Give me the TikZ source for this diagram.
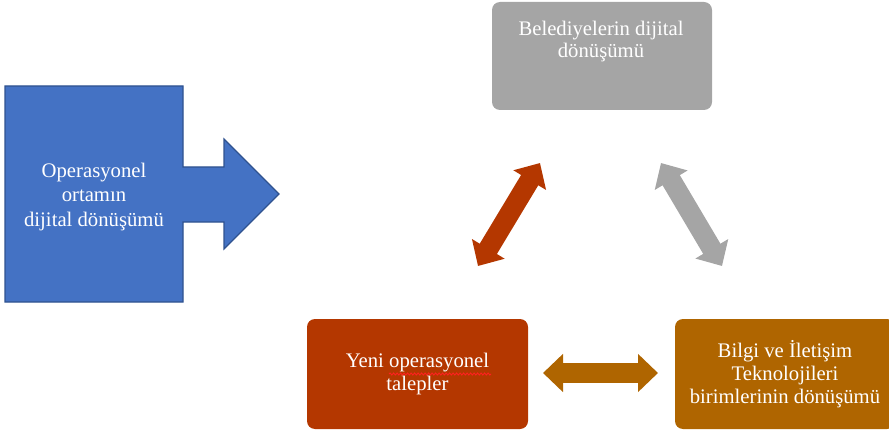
\documentclass[tikz,border=0pt]{standalone}
\usepackage{fontspec}
\setmainfont{Liberation Serif}
\usetikzlibrary{arrows.meta,decorations.pathmorphing}
\definecolor{cblue}{HTML}{4472C4}
\definecolor{cblueb}{HTML}{2F528F}
\definecolor{cgray}{HTML}{A5A5A5}
\definecolor{cred}{HTML}{B43700}
\definecolor{corange}{HTML}{AF6500}
\definecolor{cspell}{HTML}{FF2020}
\begin{document}
\begin{tikzpicture}[x=1pt,y=-1pt,
  box/.style={rounded corners=8pt, draw=none, inner sep=0pt, text=white, align=center,
              font=\fontsize{20.7}{22.8}\selectfont},
  lbl/.style={text=white, align=center, inner sep=0pt, font=\fontsize{20.7}{22.8}\selectfont},
  dbl/.style={line width=20pt, {Triangle[width=37pt,length=20pt]}-{Triangle[width=37pt,length=20pt]}}]
\useasboundingbox (0,0) rectangle (889,433);
\clip (0,0) rectangle (889,433);
% blue block arrow
\draw[fill=cblue, draw=cblueb, line width=1.2pt]
  (5,86) -- (183,86) -- (183,167) -- (224,167) -- (224,139) -- (279,194)
  -- (224,249) -- (224,222) -- (183,222) -- (183,302) -- (5,302) -- cycle;
\node[lbl, font=\fontsize{20.7}{24.5}\selectfont] (op) at (94,197) {Operasyonel\\ortamın\\dijital dönüşümü};
% boxes
\node[box, fill=cgray, minimum width=220pt, minimum height=108pt] (bel) at (602,56) {};
\node[lbl, anchor=north] (beltxt) at (601,20.5) {Belediyelerin dijital\\dönüşümü};
\node[box, fill=cred, minimum width=221pt, minimum height=110pt] (yeni) at (417.5,374) {Yeni operasyonel\\talepler};
\node[box, fill=corange, minimum width=220pt, minimum height=110pt] (bit) at (785,374) {Bilgi ve İletişim\\Teknolojileri\\birimlerinin dönüşümü};
% spell-check underline
\draw[cspell, line width=0.9pt, decorate, decoration={snake, amplitude=1pt, segment length=3.5pt}]
  (389,374) -- (491,374);
% double arrows
\coordinate (r1) at (478,266);
\coordinate (r2) at (540,163);
\coordinate (g1) at (661,163);
\coordinate (g2) at (722,266);
\coordinate (o1) at (543,373);
\coordinate (o2) at (658,373);
\draw[dbl, cred] (r1) -- (r2);
\draw[dbl, cgray] (g1) -- (g2);
\draw[dbl, corange] (o1) -- (o2);
\end{tikzpicture}
\end{document}
